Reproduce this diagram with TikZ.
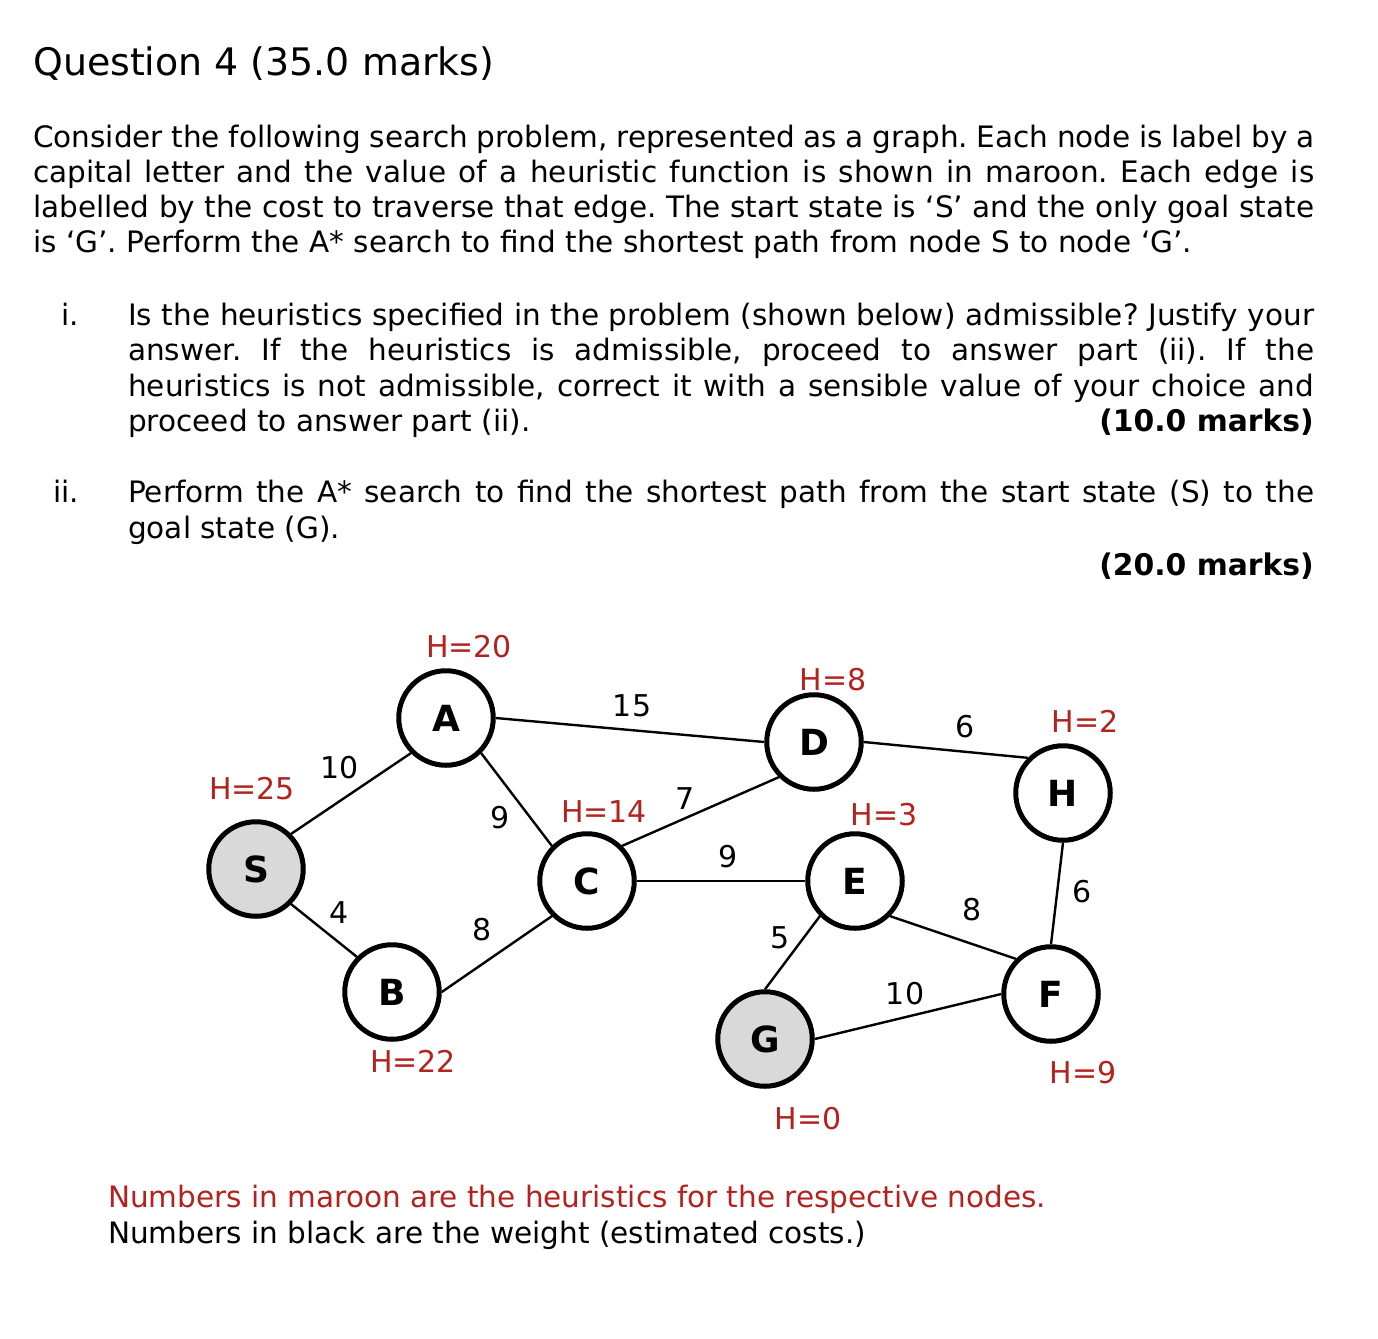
\documentclass[tikz,border=0pt]{standalone}
\usepackage{fontspec}
\setmainfont{DejaVu Sans}
\frenchspacing
\definecolor{hcol}{RGB}{178,34,30}
\definecolor{nodegray}{RGB}{217,217,217}
\begin{document}
\begin{tikzpicture}[x=1pt,y=-1pt,
  txt/.style={anchor=base west, inner sep=0pt, font=\fontsize{29.5}{35}\selectfont\frenchspacing},
  marks/.style={anchor=base east, inner sep=0pt, font=\fontsize{29.8}{35}\selectfont\bfseries},
  vert/.style={circle, draw, line width=5pt, minimum size=94.5pt, inner sep=0pt, fill=white,
    font=\fontsize{36}{36}\selectfont\bfseries},
  goalv/.style={vert, fill=nodegray},
  hlab/.style={text=hcol, inner sep=0pt, font=\fontsize{30}{30}\selectfont},
  wlab/.style={inner sep=0pt, font=\fontsize{30}{30}\selectfont},
  edge/.style={line width=2.4pt}]
\useasboundingbox[fill=white] (0,0) rectangle (1378,1338);

% ---------- text ----------
\node[txt] (title) at (33,75) {\fontsize{37.9}{40}\selectfont Question 4 (35.0 marks)};

\node[txt] (p1) at (33,147.5) {\makebox[1281pt][s]{Consider the following search problem, represented as a graph. Each node is label by a}};
\node[txt] (p2) at (33,182.5) {\makebox[1281pt][s]{capital letter and the value of a heuristic function is shown in maroon. Each edge is}};
\node[txt] (p3) at (33,217.5) {\makebox[1281pt][s]{labelled by the cost to traverse that edge. The start state is ‘S’ and the only goal state}};
\node[txt] (p4) at (33,252.5) {is ‘G’. Perform the A* search to find the shortest path from node S to node ‘G’.};

\node[txt, anchor=base east] (n1) at (79,325.5) {i.};
\node[txt] (q1) at (128,325.5) {\makebox[1186pt][s]{Is the heuristics specified in the problem (shown below) admissible? Justify your}};
\node[txt] (q2) at (128,360.5) {\makebox[1186pt][s]{answer. If the heuristics is admissible, proceed to answer part (ii). If the}};
\node[txt] (q3) at (128,396.5) {\makebox[1186pt][s]{heuristics is not admissible, correct it with a sensible value of your choice and}};
\node[txt] (q4) at (128,431.5) {proceed to answer part (ii).};
\node[marks] (m1) at (1314,431.5) {(10.0 marks)};

\node[txt, anchor=base east] (n2) at (79,502.5) {ii.};
\node[txt] (r1) at (128,502.5) {\makebox[1186pt][s]{Perform the A* search to find the shortest path from the start state (S) to the}};
\node[txt] (r2) at (128,538.5) {goal state (G).};
\node[marks] (m2) at (1314,575.5) {(20.0 marks)};

% ---------- graph ----------
\node[goalv] (S) at (256,869) {S};
\node[vert] (A) at (446,718) {A};
\node[vert] (B) at (392,992) {B};
\node[vert] (C) at (587,881) {C};
\node[vert] (D) at (814,742) {D};
\node[vert] (E) at (855,881) {E};
\node[vert] (H) at (1063,793) {H};
\node[vert] (F) at (1051,994) {F};
\node[goalv] (G) at (765,1039) {G};

\draw[edge] (S.45) -- (A.225);
\draw[edge] (S.-45) -- (B.135);
\draw[edge] (A.-45) -- (C.135);
\draw[edge] (A.0) -- (D.180);
\draw[edge] (B.0) -- (C.225);
\draw[edge] (C.45) -- (D.225);
\draw[edge] (C.0) -- (E.180);
\draw[edge] (D.0) -- (H.135);
\draw[edge] (E.225) -- (G.90);
\draw[edge] (E.-45) -- (F.135);
\draw[edge] (H.-90) -- (F.90);
\draw[edge] (G.0) -- (F.180);

% heuristic labels
\node[hlab] (hA) at (469,647) {H=20};
\node[hlab] (hS) at (252,789) {H=25};
\node[hlab] (hB) at (413,1061) {H=22};
\node[hlab] (hC) at (604,812) {H=14};
\node[hlab] (hD) at (833,680) {H=8};
\node[hlab] (hE) at (884,815) {H=3};
\node[hlab] (hH) at (1085,721) {H=2};
\node[hlab] (hF) at (1083,1073) {H=9};
\node[hlab] (hG) at (808,1119) {H=0};

% weight labels
\node[wlab] (wSA) at (340,768) {10};
\node[wlab] (wSB) at (339,913) {4};
\node[wlab] (wAC) at (500,818) {9};
\node[wlab] (wBC) at (482,930) {8};
\node[wlab] (wAD) at (632,706) {15};
\node[wlab] (wCD) at (685,799) {7};
\node[wlab] (wCE) at (728,857) {9};
\node[wlab] (wEG) at (780,938) {5};
\node[wlab] (wDH) at (965,727) {6};
\node[wlab] (wEF) at (972,910) {8};
\node[wlab] (wHF) at (1082,892) {6};
\node[wlab] (wGF) at (905,994) {10};

% caption
\node[txt, text=hcol] (c1) at (108,1207.5) {Numbers in maroon are the heuristics for the respective nodes.};
\node[txt] (c2) at (108,1243.5) {Numbers in black are the weight (estimated costs.)};
\end{tikzpicture}
\end{document}
